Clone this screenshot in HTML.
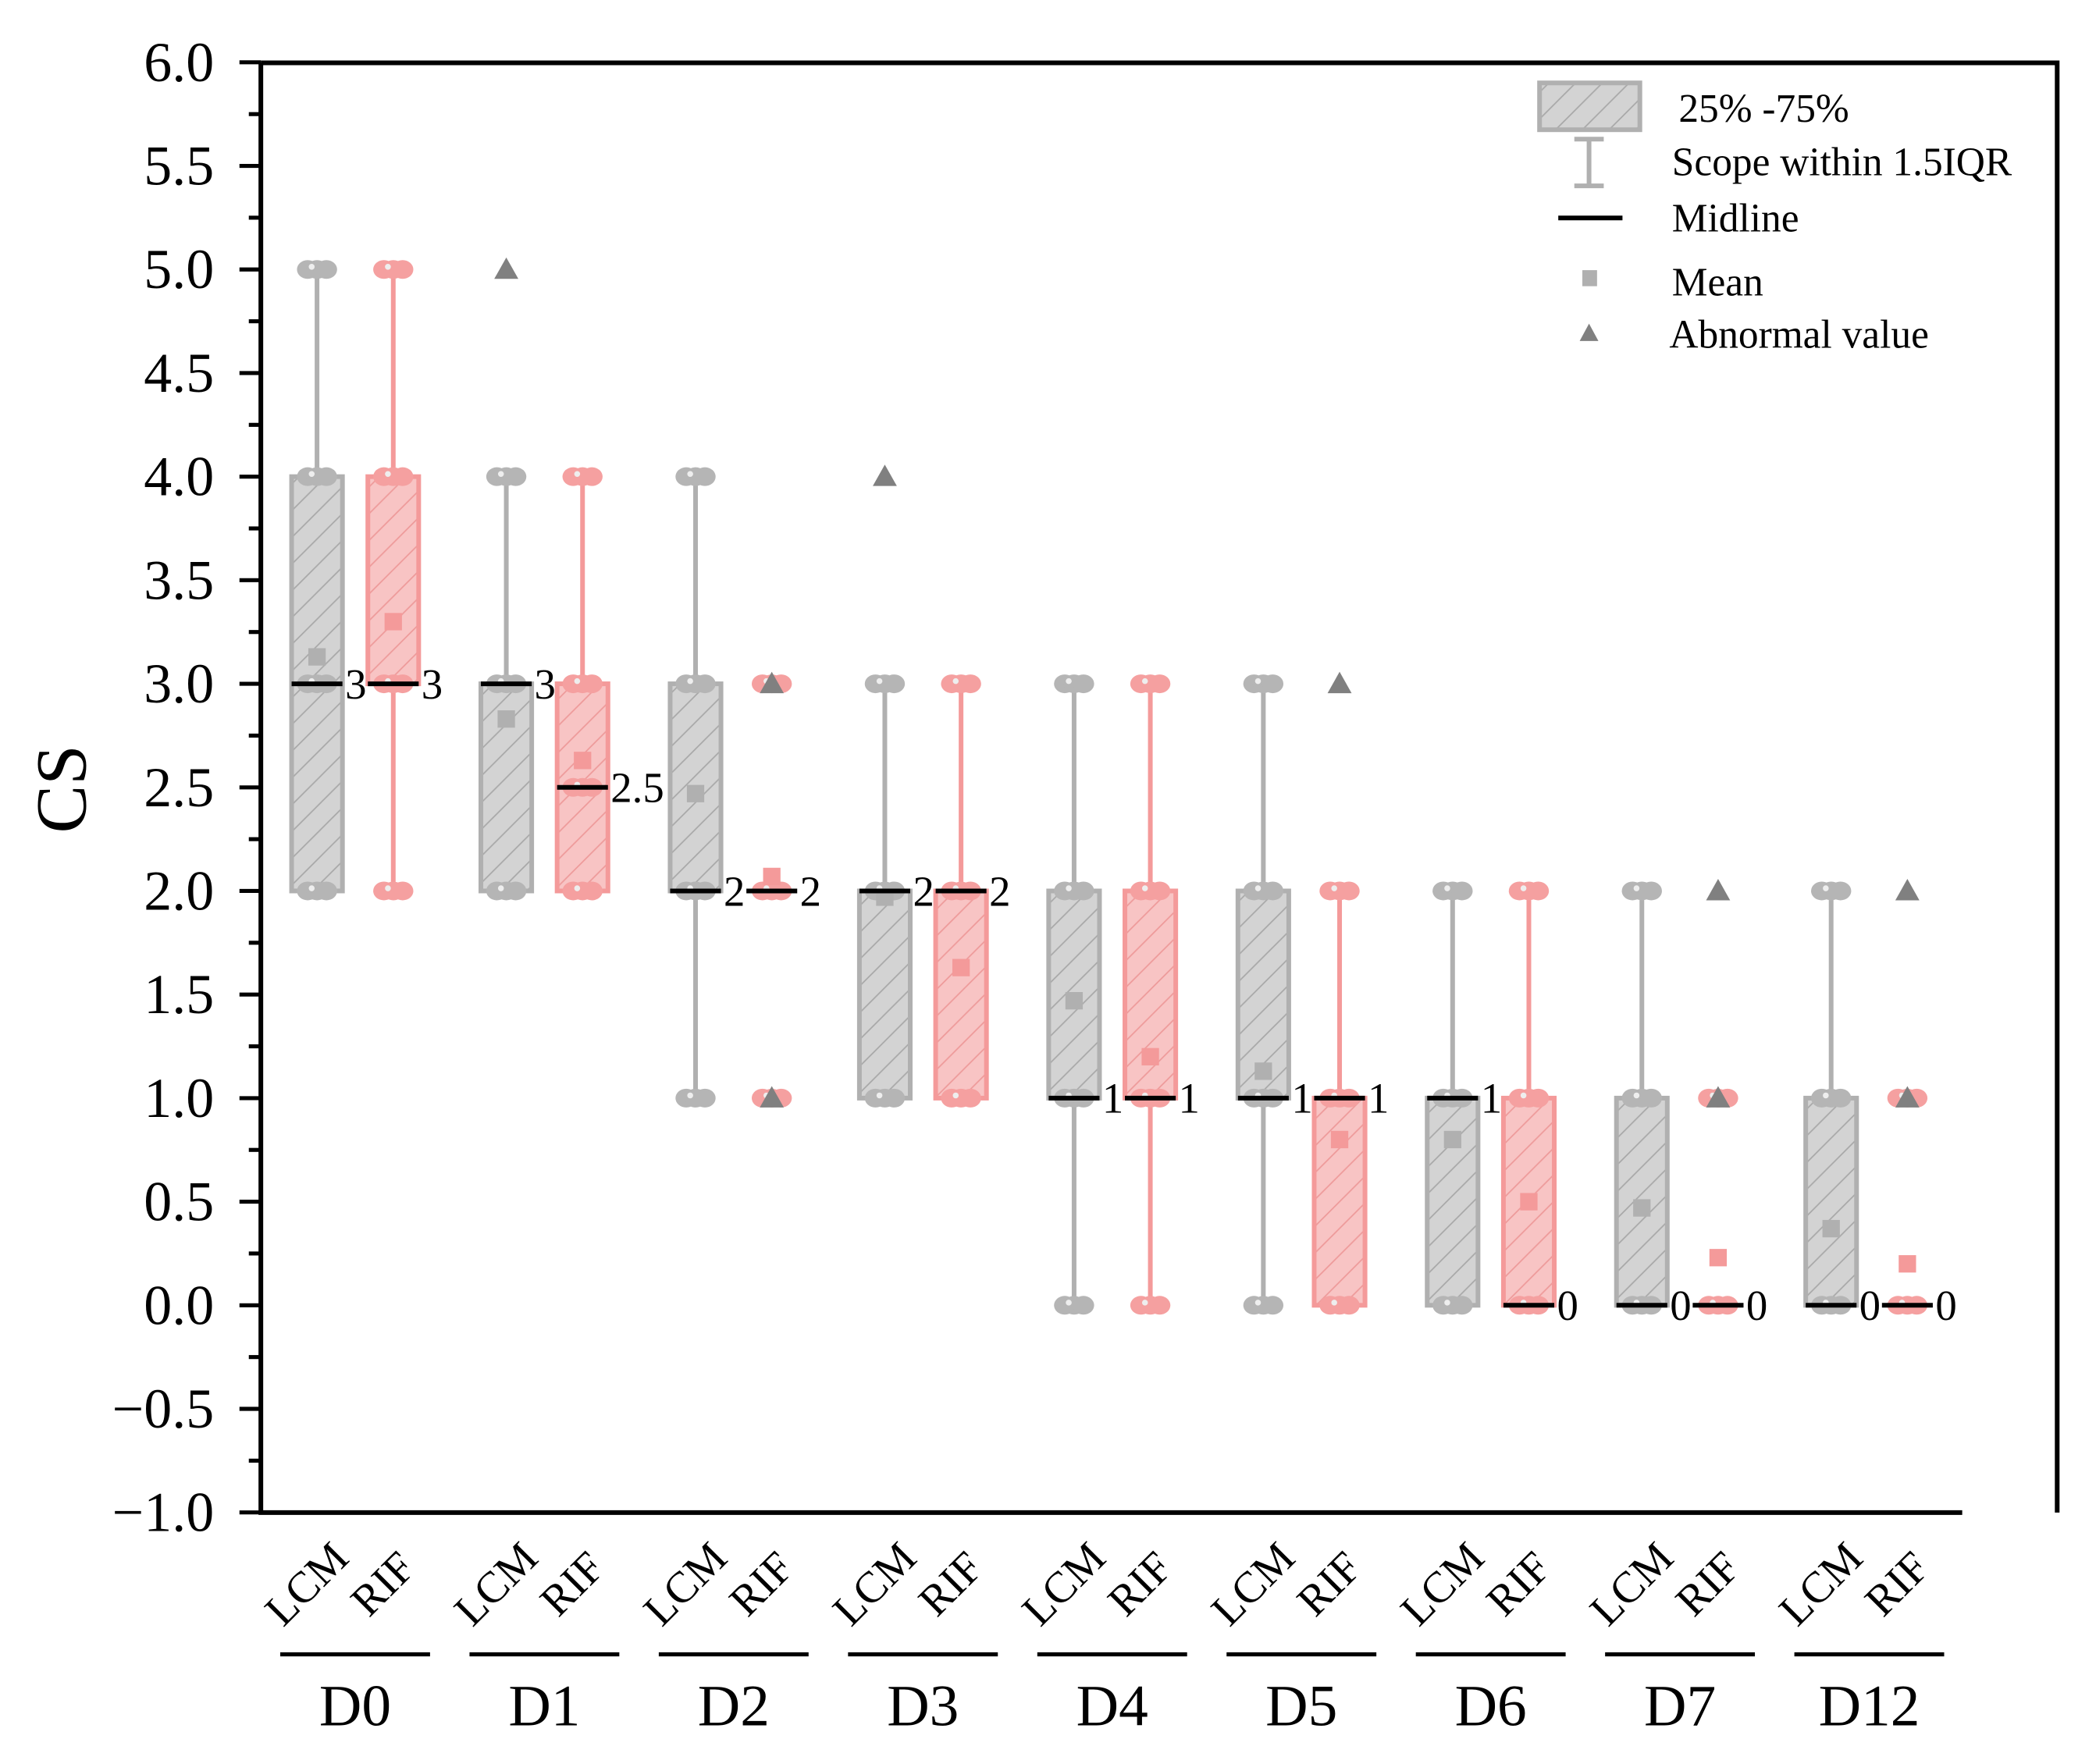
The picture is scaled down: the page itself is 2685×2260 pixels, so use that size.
<!DOCTYPE html>
<html><head><meta charset="utf-8"><style>
html,body{margin:0;padding:0;background:#fff}
svg{display:block}
text{font-family:"Liberation Serif",serif}
</style></head><body>
<svg id="chart" width="2685" height="2260" viewBox="0 0 1567 1319" xmlns="http://www.w3.org/2000/svg">
<defs>
<pattern id="hatchG" patternUnits="userSpaceOnUse" width="20" height="20">
<rect width="20" height="20" fill="#d3d3d3"/><path d="M-5,25 L25,-5 M-15,15 L15,-15 M5,35 L35,5" stroke="#a8a8a8" stroke-width="1"/></pattern>
<pattern id="hatchP" patternUnits="userSpaceOnUse" width="20" height="20">
<rect width="20" height="20" fill="#f8c4c4"/><path d="M-5,25 L25,-5 M-15,15 L15,-15 M5,35 L35,5" stroke="#ee9a9a" stroke-width="1"/></pattern>
</defs>
<g id="axes"></g>
<g id="marks"></g>
<g id="legend">
<rect x="1151" y="62" width="75" height="35" fill="url(#hatchG)" stroke="#b0b0b0" stroke-width="3.5"/>
<text x="1255" y="91" font-size="30">25% -75%</text>
<path d="M1188,104 V139 M1177,104 H1199 M1177,139 H1199" stroke="#b0b0b0" stroke-width="3.5" fill="none"/>
<text x="1250" y="131" font-size="30">Scope within 1.5IQR</text>
<line x1="1165" y1="163" x2="1213" y2="163" stroke="#000" stroke-width="3.5"/>
<text x="1250" y="173" font-size="30">Midline</text>
<rect x="1183" y="202" width="11" height="12" fill="#b0b0b0"/>
<text x="1250" y="221" font-size="30">Mean</text>
<polygon points="1188,242 1181,255 1195,255" fill="#808080"/>
<text x="1248" y="260" font-size="30">Abnormal value</text>
</g>
</svg>
<script>
const groups = ["D0","D1","D2","D3","D4","D5","D6","D7","D12"];
const series = ["LCM","RIF"];
const q1 = [[2,3],[2,2],[2,2],[1,1],[1,1],[1,0],[0,0],[0,0],[0,0]];
const q3 = [[4,4],[3,3],[3,2],[2,2],[2,2],[2,1],[1,1],[1,0],[1,0]];
const whiskLo = [[2,2],[2,2],[1,2],[1,1],[0,0],[0,0],[0,0],[0,0],[0,0]];
const whiskHi = [[5,5],[4,4],[4,2],[3,3],[3,3],[3,2],[2,2],[2,0],[2,0]];
const medians = [[3,3],[3,2.5],[2,2],[2,2],[1,1],[1,1],[1,0],[0,0],[0,0]];
const medianLabels = [["3","3"],["3","2.5"],["2","2"],["2","2"],["1","1"],["1","1"],["1","0"],["0","0"],["0","0"]];
const means = [[3.13,3.3],[2.83,2.63],[2.47,2.07],[1.97,1.63],[1.47,1.2],[1.13,0.8],[0.8,0.5],[0.47,0.23],[0.37,0.2]];
const outliers = [[[],[]],[[5],[]],[[],[1,3]],[[4],[]],[[],[]],[[],[3]],[[],[]],[[],[1,2]],[[],[1,2]]];
const points = [[[2,3,4,5],[2,3,4,5]],[[2,3,4],[2,2.5,3,4]],[[1,2,3,4],[1,2,3]],[[1,2,3],[1,2,3]],[[0,1,2,3],[0,1,2,3]],[[0,1,2,3],[0,1,2]],[[0,1,2],[0,1,2]],[[0,1,2],[0,1]],[[0,1,2],[0,1]]];
const yTicks = [-1,-0.5,0,0.5,1,1.5,2,2.5,3,3.5,4,4.5,5,5.5,6];

const NS="http://www.w3.org/2000/svg";
const X0=195,X1=1467,YT=47,YB=1131;
const yS=v=>976-v*154.9;
const gX=i=>265.5+i*141.5;
const sX=(i,j)=>gX(i)+(j===0?-28.5:28.5);
function mk(tag,attrs,parent){const e=document.createElementNS(NS,tag);for(const k in attrs)e.setAttribute(k,attrs[k]);parent.appendChild(e);return e;}
const axes=document.getElementById('axes'), marks=document.getElementById('marks');

let e;
e=mk('path',{d:`M${X0},${YT} H1538 V${YB} M${X0},${YT} V${YB} H${X1}`,stroke:'#000','stroke-width':3.5,fill:'none'},axes);


yTicks.forEach((v,k)=>{
  const y=yS(v);
  e=mk('line',{x1:X0-16,y1:y,x2:X0,y2:y,stroke:'#000','stroke-width':3},axes);
  
  
  if(k<yTicks.length-1){const ym=yS(v+0.25);
    e=mk('line',{x1:X0-9,y1:ym,x2:X0,y2:ym,stroke:'#000','stroke-width':3},axes);
    
    }
  e=mk('text',{x:X0-35,y:y+14,'font-size':42,'text-anchor':'end'},axes);
  e.textContent=(v<0?'\u2212':'')+Math.abs(v).toFixed(1);
  
  
});
e=mk('text',{x:0,y:0,'font-size':54,'text-anchor':'middle',transform:'translate(64,590) rotate(-90)'},axes);
e.textContent='CS';



groups.forEach((g,i)=>{
  series.forEach((s,j)=>{
    const cx=sX(i,j);
    e=mk('text',{x:0,y:0,'font-size':33,'text-anchor':'middle',transform:`translate(${cx},${1192}) rotate(-45)`},axes);
    e.textContent=s;
    
    
    const stroke=j===0?'#b0b0b0':'#f49a9a', fill=j===0?'url(#hatchG)':'url(#hatchP)';
    const dotC=j===0?'#b5b5b5':'#f5a0a0';
    const grp=mk('g',{},marks);
    
    
    const bw=19;
    if(whiskHi[i][j]!==whiskLo[i][j]){
      e=mk('line',{x1:cx,y1:yS(whiskLo[i][j]),x2:cx,y2:yS(whiskHi[i][j]),stroke,'stroke-width':3.5},grp);
      
      
    }
    if(q3[i][j]!==q1[i][j]){
      e=mk('rect',{x:cx-bw,y:yS(q3[i][j]),width:bw*2,height:yS(q1[i][j])-yS(q3[i][j]),fill,stroke,'stroke-width':3.5},grp);
      
      
    }
    points[i][j].forEach(v=>{
      [-7,0,7].forEach(dx=>{
        e=mk('ellipse',{cx:cx+dx,cy:yS(v),rx:8,ry:7,fill:dotC},grp);
        
        
      });
      e=mk('circle',{cx:cx-4,cy:yS(v)-2,r:2.2,fill:'#eee'},grp);
      
      
    });
    const m=means[i][j];
    e=mk('rect',{x:cx-6.5,y:yS(m)-6.5,width:13,height:13,fill:j===0?'#b0b0b0':'#f49a9a'},grp);
    
    
    outliers[i][j].forEach(v=>{
      const y=yS(v);
      e=mk('polygon',{points:`${cx},${y-9} ${cx-9},${y+7} ${cx+9},${y+7}`,fill:'#808080'},grp);
      
      
    });
    const my=yS(medians[i][j]);
    e=mk('line',{x1:cx-bw,y1:my,x2:cx+bw,y2:my,stroke:'#000','stroke-width':3.5},grp);
    
    
    e=mk('text',{x:cx+bw+2,y:my+11,'font-size':32},grp);
    e.textContent=medianLabels[i][j];
    
    
  });
  const gx=gX(i);
  e=mk('line',{x1:gx-56,y1:1237,x2:gx+56,y2:1237,stroke:'#000','stroke-width':3},axes);
  
  
  e=mk('text',{x:gx,y:1290,'font-size':44,'text-anchor':'middle'},axes);
  e.textContent=g;
  
  
});
</script>
</body></html>
